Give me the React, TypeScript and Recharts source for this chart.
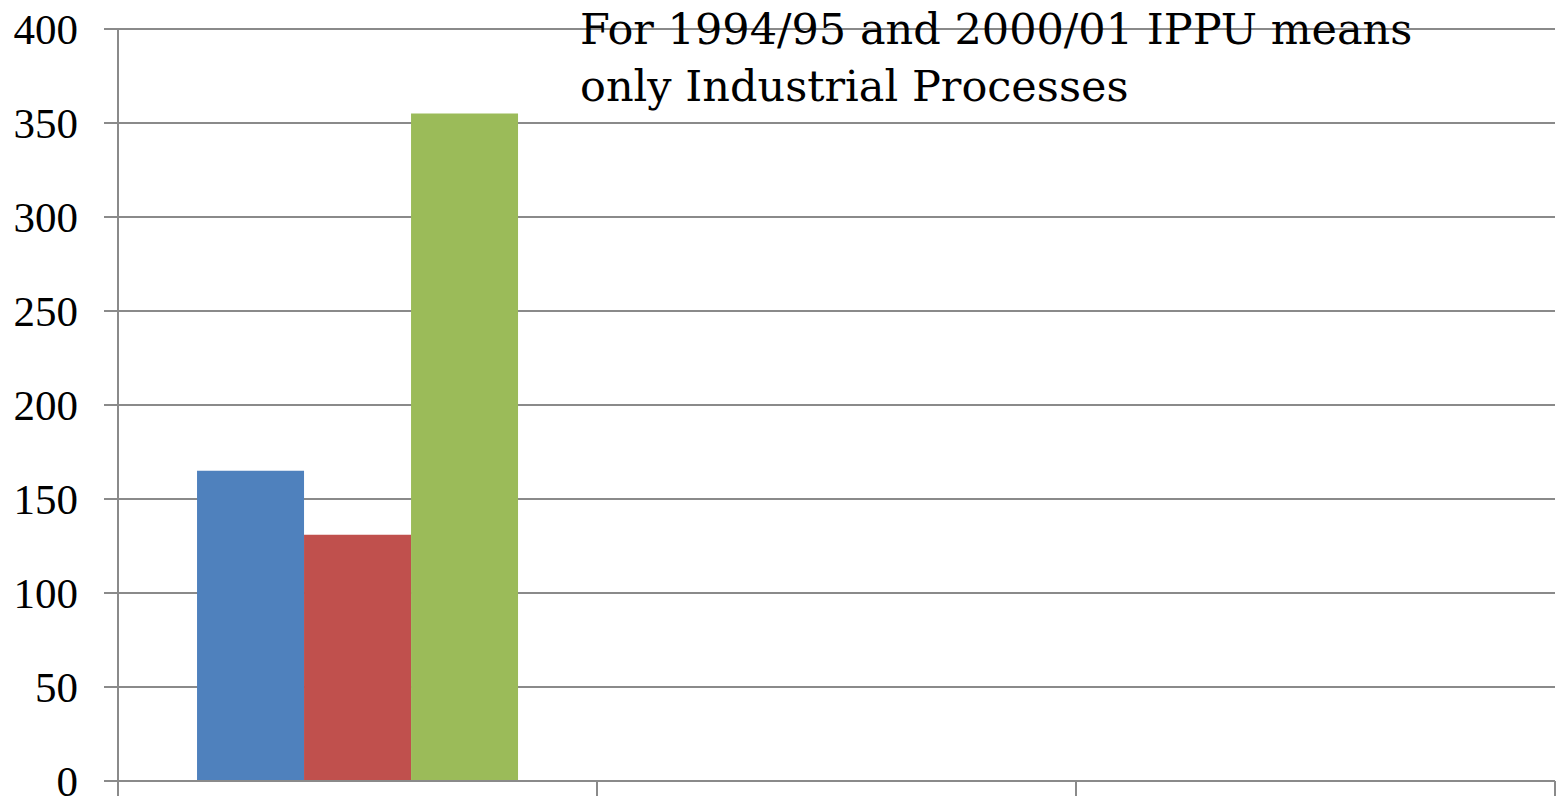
import { BarChart, Bar, XAxis, YAxis, CartesianGrid } from "recharts";

const categories = ["", "", ""];
const seriesA = [165, null, null];
const seriesB = [131, null, null];
const seriesC = [355, null, null];
const yTicks = [0, 50, 100, 150, 200, 250, 300, 350, 400];
const noteLines = ["For 1994/95 and 2000/01 IPPU means", "only Industrial Processes"];

const data = categories.map((c, i) => ({
  cat: c,
  a: seriesA[i],
  b: seriesB[i],
  c: seriesC[i],
}));

const GRID = "#8a8a8a";

// category-boundary tick marks (Excel style: ticks between categories)
const EdgeTick = (props: any) => {
  const { x, y, payload, index } = props;
  const half = payload?.offset ?? 0;
  const last = index === categories.length - 1;
  return (
    <g>
      <line x1={x - half} x2={x - half} y1={y} y2={y + 16} stroke={GRID} strokeWidth={2} />
      {last && <line x1={x + half} x2={x + half} y1={y} y2={y + 16} stroke={GRID} strokeWidth={2} />}
    </g>
  );
};

export default function App() {
  return (
    <div style={{ position: "absolute", left: 0, top: 0, width: 1560, height: 796, overflow: "hidden", background: "#fff" }}>
      <BarChart
        width={1560}
        height={830}
        data={data}
        margin={{ top: 29, right: 5, left: 0, bottom: 29 }}
        barCategoryGap="16.5%"
        barGap={0}
      >
        <CartesianGrid vertical={false} stroke={GRID} strokeWidth={2} />
        <XAxis
          dataKey="cat"
          tickLine={false}
          tickSize={0}
          tickMargin={0}
          tick={<EdgeTick />}
          height={20}
          stroke={GRID}
          strokeWidth={2}
          interval={0}
        />
        <YAxis
          width={118}
          domain={[0, 400]}
          ticks={yTicks}
          tickSize={14}
          tickMargin={26}
          stroke={GRID}
          strokeWidth={2}
          tick={{ fill: "#000", fontSize: 43, fontFamily: "Liberation Serif" }}
          interval={0}
        />
        <Bar dataKey="a" fill="#4F81BD" isAnimationActive={false} />
        <Bar dataKey="b" fill="#C0504D" isAnimationActive={false} />
        <Bar dataKey="c" fill="#9BBB59" isAnimationActive={false} />
      </BarChart>
      <div
        style={{
          position: "absolute",
          left: 580,
          top: 1,
          fontFamily: "DejaVu Serif",
          fontSize: 43,
          lineHeight: "57px",
          color: "#000",
          whiteSpace: "nowrap",
        }}
      >
        {noteLines.map((l) => (
          <div key={l}>{l}</div>
        ))}
      </div>
    </div>
  );
}
